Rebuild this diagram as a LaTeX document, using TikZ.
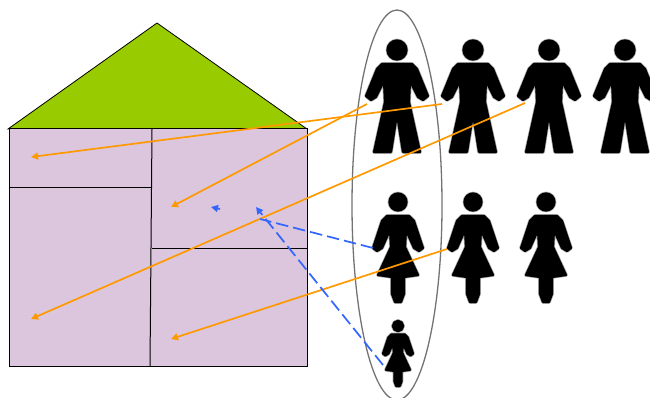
\documentclass[tikz,border=0pt]{standalone}
\usetikzlibrary{arrows.meta}
\definecolor{roofgreen}{HTML}{99CC00}
\definecolor{wallpink}{HTML}{DCC6DE}
\definecolor{arroworange}{HTML}{FF9900}
\definecolor{arrowblue}{HTML}{3366FF}
\tikzset{
  figureink/.style={preaction={draw=black!35,line width=3.6pt,line join=round},fill=black,draw=black,line width=2.2pt,line join=round},
  wall/.style={draw=black,line width=1pt},
  orangearrow/.style={draw=arroworange,line width=1.7pt,-{Triangle[length=7pt,width=7pt]}},
  bluearrow/.style={draw=arrowblue,line width=1.7pt,dash pattern=on 12.5pt off 5pt},
  bluetip/.style={draw=arrowblue,line width=1.7pt,-{Triangle[length=7pt,width=7pt]}},
  man/.pic={
    \path[figureink] (0,0) circle (9.5);
    \path[figureink] (-15,14) -- (15,14) -- (20,19) -- (31,46) -- (26,50) -- (21,47) -- (13,31)
      -- (12,52) -- (23,102) -- (6,102) -- (0,64) -- (-6,102) -- (-23,102) -- (-12,52)
      -- (-13,31) -- (-21,47) -- (-26,50) -- (-31,46) -- (-20,19) -- cycle;
  },
  woman/.pic={
    \path[figureink] (0,0) circle (8.5);
    \path[figureink] (-11,14) -- (11,14) -- (16,19) -- (25,46) -- (21,49) -- (16,46) -- (8,28)
      -- (7,45) -- (20,73) -- (6,75) -- (6,92) -- (3,100) -- (-3,100) -- (-6,92) -- (-6,75)
      -- (-20,73) -- (-7,45) -- (-8,28) -- (-16,46) -- (-21,49) -- (-25,46) -- (-16,19) -- cycle;
  }
}
\begin{document}
\begin{tikzpicture}[x=1pt,y=-1pt]
\useasboundingbox (0,0) rectangle (650,398);
\clip (0,0) rectangle (650,398);
% house
\fill[roofgreen,draw=black,line width=0.8pt] (8,129) -- (157,23) -- (307,129) -- cycle;
\filldraw[fill=wallpink,wall] (9,129) rectangle (307,366);
\draw[wall] (152,129) -- (150,366);
\draw[wall] (9,188) -- (152,188);
\draw[wall] (152,248) -- (307,248);
% people
\pic at (397,50) {man};
\pic at (473,50) {man};
\pic at (549,50) {man};
\pic at (625,50) {man};
\pic at (398,202) {woman};
\pic at (473,202) {woman};
\pic at (546,202) {woman};
\pic[scale=0.6] at (398,326) {woman};
% ellipse
\draw[black!55,line width=1.3pt] (397,205) ellipse [x radius=45,y radius=195];
% connector ends
\coordinate (manB) at (442,104);
\coordinate (manA) at (367,104);
\coordinate (manC) at (525,103);
\coordinate (womanB) at (447,249);
\coordinate (womanA) at (373,248);
\coordinate (child) at (383,365);
\coordinate (roomTL) at (31,157);
\coordinate (roomTR) at (171,207);
\coordinate (roomBL) at (31,319);
\coordinate (roomBR) at (171,339);
\coordinate (blueEnd) at (260,219);
\coordinate (stubStart) at (220,209);
\coordinate (stubEnd) at (211,207);
\coordinate (childEnd) at (256,207);
% arrows
\draw[orangearrow] (manB) -- (roomTL);
\draw[orangearrow] (manA) -- (roomTR);
\draw[orangearrow] (manC) -- (roomBL);
\draw[orangearrow] (womanB) -- (roomBR);
\draw[bluearrow] (womanA) -- (blueEnd);
\draw[bluetip] (stubStart) -- (stubEnd);
\draw[bluearrow,-{Triangle[length=7pt,width=7pt]}] (child) -- (childEnd);
\end{tikzpicture}
\end{document}
